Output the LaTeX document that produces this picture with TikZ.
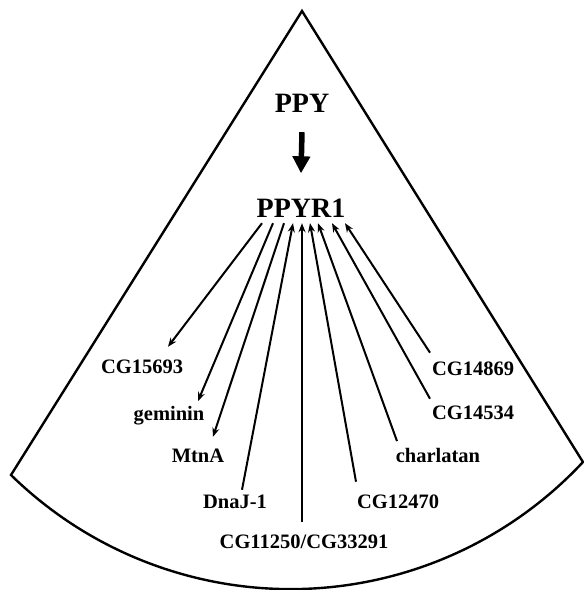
\documentclass[tikz,border=0pt]{standalone}
\usepackage{fontspec}
\setmainfont{Liberation Serif}
\usetikzlibrary{arrows.meta}

\begin{document}
\begin{tikzpicture}[
        x=1pt, y=-1pt,
        hub/.style={font=\fontsize{28}{32}\selectfont\bfseries, inner sep=0pt, anchor=base},
        gene/.style={font=\fontsize{20.5}{24}\selectfont\bfseries, inner sep=0pt, anchor=base},
        link/.style={line width=2pt, -{Stealth[length=9pt,width=7pt]}},
        back/.style={line width=2pt, {Stealth[length=9pt,width=7pt]}-},
        bigarrow/.style={line width=5.5pt, -{Triangle[length=17pt,width=17pt]}}
    ]
        \useasboundingbox (0,0) rectangle (584,590);

        % Sector outline
        \draw[line width=2.4pt] (11,475) arc[start angle=225.6, end angle=317, radius=399.7pt]
            -- (302,11) -- cycle;

        % Ligand and receptor
        \node[hub] (ppy) at (302,112) {PPY};
        \node[hub] (ppyr1) at (301,217) {PPYR1};
        \draw[bigarrow] ([yshift=-20pt]ppy.south) -- ([yshift=25pt]ppyr1.north);

        % Genes
        \node[gene] (cg15693) at (142,373) {CG15693};
        \node[gene] (geminin) at (169,420) {geminin};
        \node[gene] (mtna) at (198,462) {MtnA};
        \node[gene] (dnaj) at (235,508) {DnaJ-1};
        \node[gene] (cg11250) at (304,548) {CG11250/CG33291};
        \node[gene] (cg12470) at (398,508) {CG12470};
        \node[gene] (charlatan) at (438,462) {charlatan};
        \node[gene] (cg14534) at (473,419) {CG14534};
        \node[gene] (cg14869) at (473,375) {CG14869};

        % Arrows out of PPYR1
        \draw[link] ([xshift=-39pt,yshift=-6pt]ppyr1.south) -- ([xshift=26pt,yshift=12.5pt]cg15693.north);
        \draw[link] ([xshift=-28pt,yshift=-6pt]ppyr1.south) -- ([xshift=29pt,yshift=4.5pt]geminin.north);
        \draw[link] ([xshift=-17pt,yshift=-6pt]ppyr1.south) -- ([xshift=15pt,yshift=11.5pt]mtna.north);

        % Arrows into PPYR1
        \draw[back] ([xshift=-8pt,yshift=-6pt]ppyr1.south) -- ([xshift=7pt,yshift=4.5pt]dnaj.north);
        \draw[back] ([xshift=1pt,yshift=-6pt]ppyr1.south) -- ([xshift=-2pt,yshift=12.5pt]cg11250.north);
        \draw[back] ([xshift=9pt,yshift=-6pt]ppyr1.south) -- ([xshift=-42pt,yshift=12.5pt]cg12470.north);
        \draw[back] ([xshift=17pt,yshift=-6pt]ppyr1.south) -- ([xshift=-41pt,yshift=6.5pt]charlatan.north);
        \draw[back] ([xshift=31pt,yshift=-6pt]ppyr1.south) -- ([xshift=-43pt,yshift=6.5pt]cg14534.north);
        \draw[back] ([xshift=44pt,yshift=-6pt]ppyr1.south) -- ([xshift=-43pt,yshift=8.5pt]cg14869.north);
    \end{tikzpicture}
\end{document}
